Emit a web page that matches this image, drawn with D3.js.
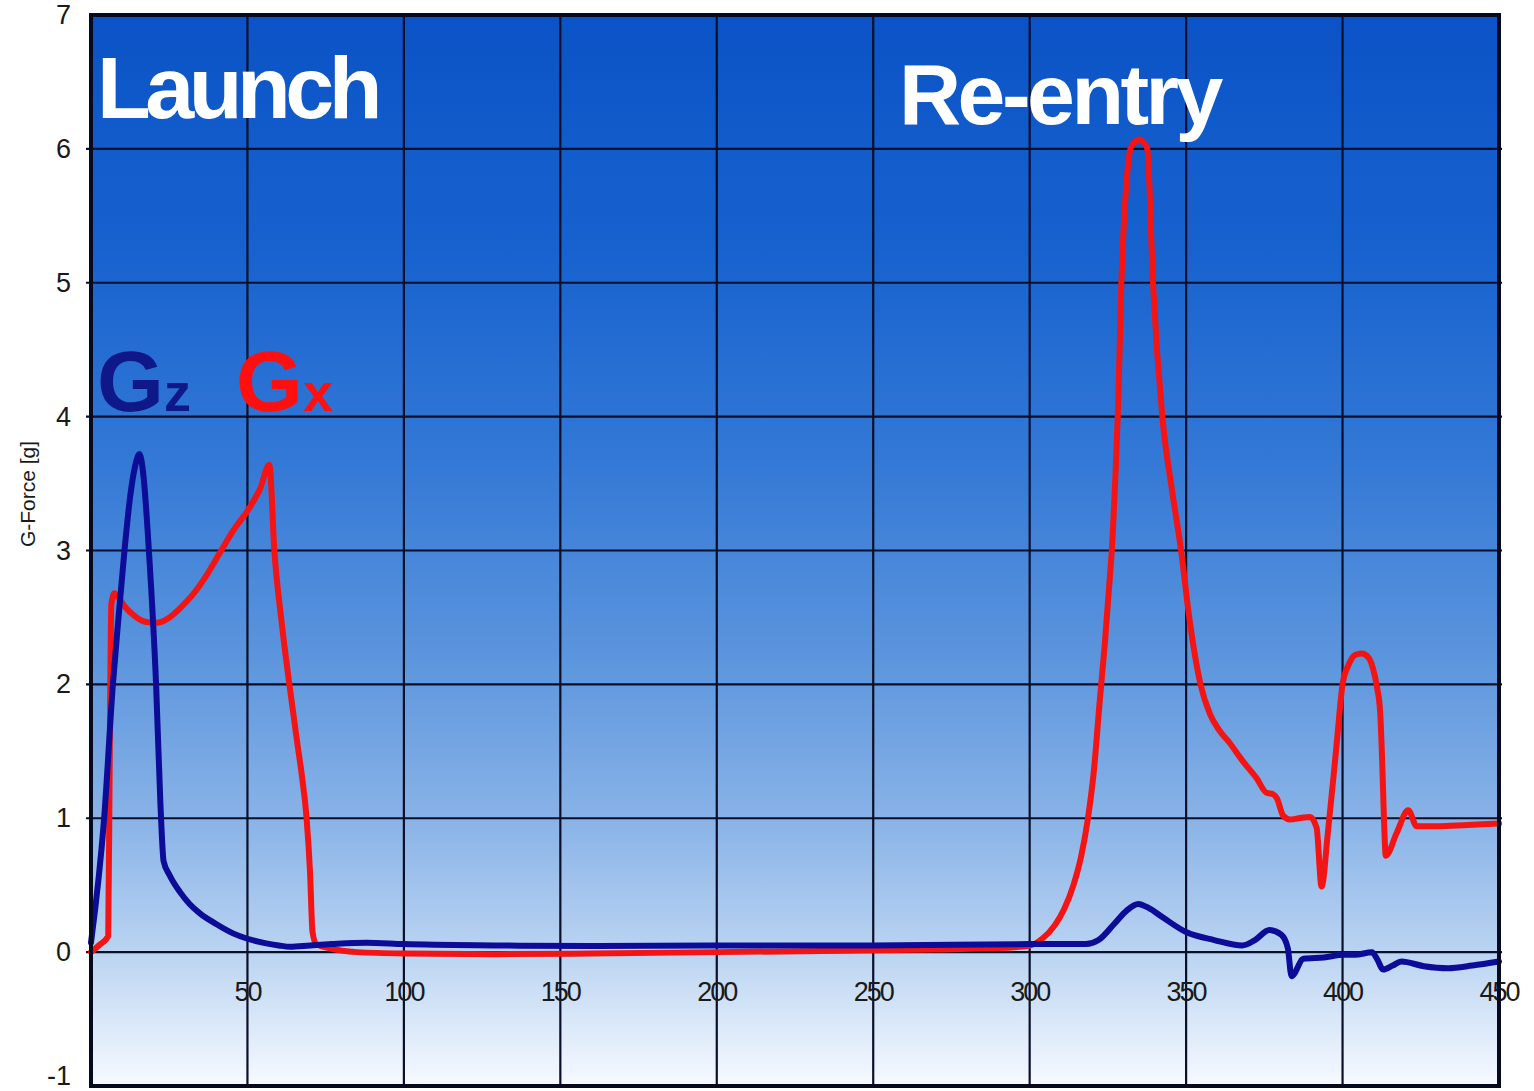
<!DOCTYPE html>
<html>
<head>
<meta charset="utf-8">
<script src="https://cdn.jsdelivr.net/npm/d3@7"></script>
<style>
  html, body { margin: 0; padding: 0; background: #ffffff; }
  svg { display: block; }
  text { font-family: "Liberation Sans", Arial, Helvetica, sans-serif; }
</style>
</head>
<body>
<svg id="chart" width="1534" height="1091"></svg>
<script>
// ---------------- Data ----------------
const xTicks = [50, 100, 150, 200, 250, 300, 350, 400, 450];
const yTicks = [-1, 0, 1, 2, 3, 4, 5, 6, 7];
const yAxisTitle = "G-Force [g]";
const phaseLabels = ["Launch", "Re-entry"];

// Gz (blue)
const gzTime = [0, 4.2, 7, 8.8, 10.7, 12.5, 14, 15.5, 16.8, 18.5, 20.8, 22.2, 23.2, 25, 28.4, 31.5, 34.8, 40, 45.4, 50, 56, 60, 63.6, 70, 77, 88, 100, 130, 160, 200, 250, 300, 310, 318, 322, 327, 331, 334.7, 338, 342.5, 350, 359, 368, 372, 376.6, 380.4, 382.5, 383.7, 387.5, 394, 400.4, 404, 409.4, 411, 413, 416, 418.8, 426, 433.8, 441.5, 450];
const gzValues = [0.07, 1.0, 2.0, 2.5, 3.0, 3.4, 3.62, 3.72, 3.55, 3.0, 2.0, 1.1, 0.68, 0.58, 0.45, 0.36, 0.29, 0.21, 0.14, 0.10, 0.065, 0.05, 0.04, 0.05, 0.06, 0.07, 0.06, 0.05, 0.045, 0.05, 0.05, 0.06, 0.06, 0.06, 0.09, 0.21, 0.31, 0.36, 0.33, 0.26, 0.15, 0.09, 0.05, 0.09, 0.165, 0.13, 0.03, -0.18, -0.05, -0.04, -0.02, -0.02, 0.0, -0.05, -0.13, -0.1, -0.07, -0.105, -0.12, -0.1, -0.07];

// Gx (red)
const gxTime = [0, 2.5, 5.5, 6.0, 6.5, 7.5, 9, 11.2, 14, 17, 20.8, 25.1, 28.5, 32.5, 36.5, 41.1, 45.5, 50.4, 54, 57, 58.6, 61, 63.4, 66, 67.5, 68.9, 70, 70.8, 72, 76, 85, 100, 130, 160, 200, 240, 270, 290, 300, 304, 308, 311, 314, 316.5, 318.5, 320.5, 322.3, 324, 325.3, 326.5, 327.5, 328.3, 329.3, 330.5, 331.3, 332.2, 333.5, 334.9, 336.3, 337.6, 339.4, 342.4, 345.5, 348.4, 351, 354.6, 357.6, 360.5, 364, 368, 372.5, 375.7, 377.8, 379, 381, 383.2, 386, 389.6, 391.7, 393.3, 395.3, 398.1, 400, 402, 404, 406.1, 408.3, 409.7, 411, 412, 412.7, 413.3, 413.8, 417.3, 421, 423.7, 430, 440, 450];
const gxValues = [0, 0.05, 0.12, 1.5, 2.6, 2.68, 2.64, 2.57, 2.51, 2.47, 2.46, 2.5, 2.57, 2.67, 2.8, 2.98, 3.15, 3.31, 3.46, 3.64, 3.0, 2.45, 2.0, 1.55, 1.3, 1.0, 0.6, 0.15, 0.06, 0.03, 0.0, -0.01, -0.015, -0.01, 0.0, 0.01, 0.02, 0.03, 0.05, 0.1, 0.2, 0.32, 0.5, 0.72, 0.98, 1.35, 1.85, 2.3, 2.7, 3.1, 3.6, 4.1, 5.0, 5.6, 5.85, 6.0, 6.05, 6.07, 6.05, 6.0, 5.0, 4.0, 3.45, 3.0, 2.5, 2.0, 1.78, 1.66, 1.56, 1.43, 1.3, 1.19, 1.18, 1.15, 1.02, 0.99, 1.0, 1.01, 0.93, 0.49, 0.89, 1.55, 2.0, 2.15, 2.22, 2.23, 2.2, 2.12, 1.98, 1.8, 1.4, 0.95, 0.72, 0.89, 1.06, 0.94, 0.94, 0.95, 0.96];

// ---------------- Chart ----------------
const svg = d3.select("#chart");
const W = 1534, H = 1091;
const mLeft = 91, mRight = 1499, mTop = 15, mBottom = 1086;

const x = d3.scaleLinear().domain([0, 450]).range([mLeft, mRight]);
const y = d3.scaleLinear().domain([-1, 7]).range([mBottom, mTop]);

svg.append("rect").attr("width", W).attr("height", H).attr("fill", "#ffffff");

const defs = svg.append("defs");
const grad = defs.append("linearGradient").attr("id", "bg")
  .attr("x1", 0).attr("y1", 0).attr("x2", 0).attr("y2", 1);
[[0, "#0b53c6"], [0.22, "#1762cf"], [0.42, "#3479d6"], [0.6, "#5c95dd"], [0.76, "#8cb5e8"], [0.88, "#bcd5f2"], [1, "#f7faff"]]
  .forEach(([o, c]) => grad.append("stop").attr("offset", o).attr("stop-color", c));

svg.append("rect")
  .attr("x", mLeft).attr("y", mTop)
  .attr("width", mRight - mLeft).attr("height", mBottom - mTop)
  .attr("fill", "url(#bg)");

// grid
const grid = svg.append("g").attr("stroke", "#0a0f2a").attr("stroke-width", 2.2);
xTicks.filter(t => t < 450).forEach(t => {
  grid.append("line").attr("x1", x(t)).attr("x2", x(t)).attr("y1", y(7)).attr("y2", y(-1));
});
yTicks.filter(t => t > -1 && t < 7).forEach(t => {
  grid.append("line").attr("x1", x(0) - 5).attr("x2", x(450) + 3).attr("y1", y(t)).attr("y2", y(t));
});

// y tick labels
svg.append("g").selectAll("text").data(yTicks).join("text")
  .attr("x", 71).attr("y", d => Math.min(y(d), H - 15))
  .attr("text-anchor", "end").attr("dominant-baseline", "central")
  .attr("font-size", 27).attr("fill", "#1a1a1a")
  .text(d => d);

// x tick labels (inside plot, below zero line)
svg.append("g").selectAll("text").data(xTicks).join("text")
  .attr("x", d => x(d)).attr("y", y(0) + 40)
  .attr("text-anchor", "middle").attr("dominant-baseline", "central")
  .attr("font-size", 27).attr("letter-spacing", -2).attr("fill", "#1a1a1a")
  .text(d => d);

// axis title
svg.append("text")
  .attr("transform", `translate(35, 494) rotate(-90)`)
  .attr("text-anchor", "middle")
  .attr("font-size", 21).attr("fill", "#1a1a1a")
  .text(yAxisTitle);

// lines
const line = d3.line().x(d => x(d[0])).y(d => y(d[1])).curve(d3.curveMonotoneX);
const gxData = gxTime.map((t, i) => [t, gxValues[i]]);
const gzData = gzTime.map((t, i) => [t, gzValues[i]]);

svg.append("path").datum(gxData).attr("d", line)
  .attr("fill", "none").attr("stroke", "#f41414").attr("stroke-width", 6)
  .attr("stroke-linejoin", "round").attr("stroke-linecap", "round");
svg.append("path").datum(gzData).attr("d", line)
  .attr("fill", "none").attr("stroke", "#0c0c98").attr("stroke-width", 6)
  .attr("stroke-linejoin", "round").attr("stroke-linecap", "round");

// frame
svg.append("rect")
  .attr("x", mLeft).attr("y", mTop)
  .attr("width", mRight - mLeft).attr("height", mBottom - mTop)
  .attr("fill", "none").attr("stroke", "#050a1e").attr("stroke-width", 4);

// phase labels
svg.append("text").attr("x", 97).attr("y", 118)
  .attr("font-size", 88).attr("font-weight", "bold").attr("letter-spacing", -5.5)
  .attr("fill", "#ffffff").text(phaseLabels[0]);
svg.append("text").attr("x", 899).attr("y", 124)
  .attr("font-size", 86).attr("font-weight", "bold").attr("letter-spacing", -3.5)
  .attr("fill", "#ffffff").text(phaseLabels[1]);

// series labels (big G with smaller subscript letter)
function seriesLabel(x0, color, sub) {
  const g = svg.append("text").attr("x", x0).attr("y", 411)
    .attr("font-size", 86).attr("font-weight", "bold").attr("fill", color).text("G");
  const w = g.node().getComputedTextLength();
  svg.append("text").attr("x", x0 + w).attr("y", 411)
    .attr("font-size", 54).attr("font-weight", "bold").attr("fill", color).text(sub);
}
seriesLabel(97, "#0f1888", "z");
seriesLabel(236, "#ff1010", "x");
</script>
</body>
</html>
